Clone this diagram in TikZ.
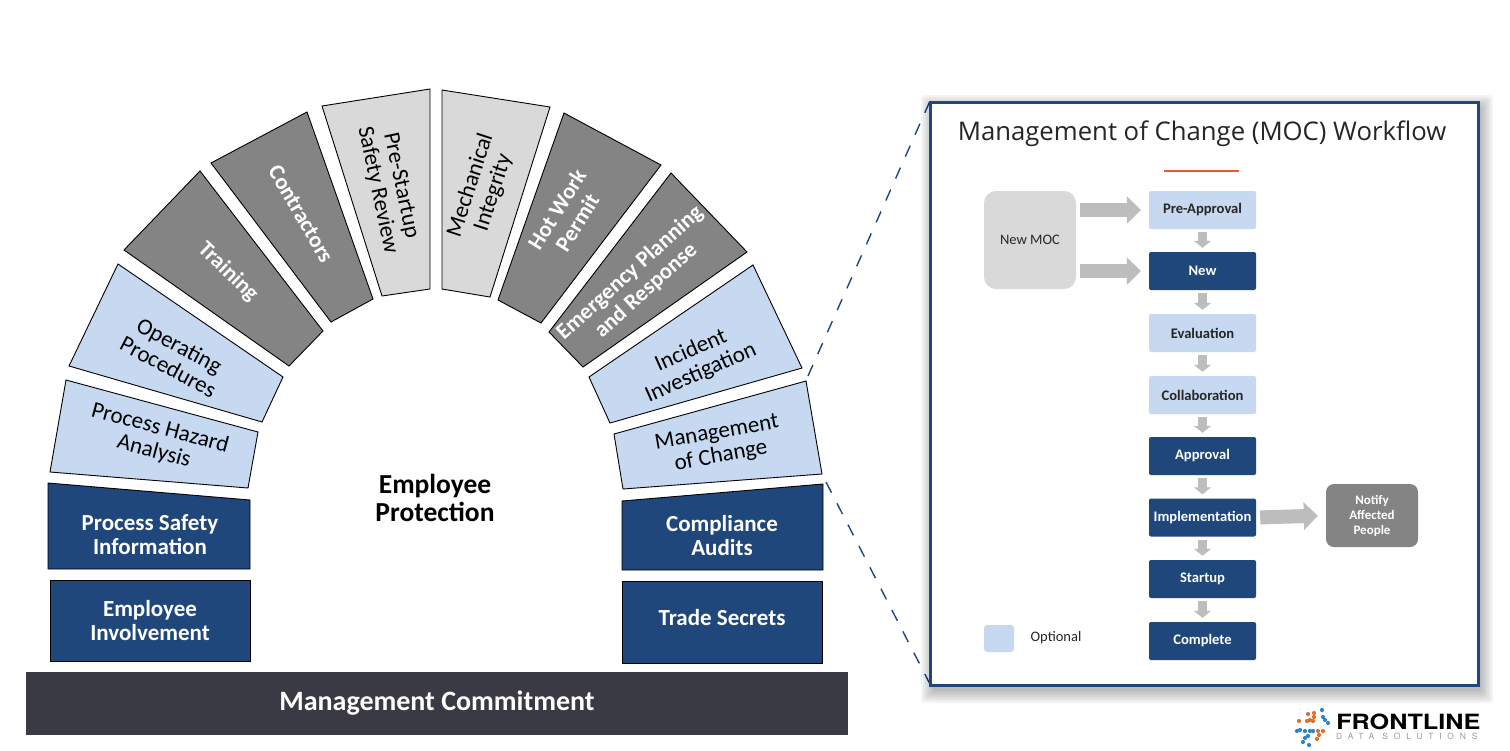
\documentclass[tikz,border=0pt]{standalone}
\usepackage{fontspec}
\setmainfont{Carlito}
\newfontfamily\titlefont{Open Sans}
\newfontfamily\logofont{TeX Gyre Heros}
\newfontfamily\logosub[LetterSpace=68]{TeX Gyre Heros}
\usetikzlibrary{arrows.meta}
\definecolor{navy}{HTML}{1F477B}
\definecolor{paleblue}{HTML}{C6D9F1}
\definecolor{midgrey}{HTML}{848484}
\definecolor{palegrey}{HTML}{D9D9D9}
\definecolor{arrowgrey}{HTML}{BDBDBD}
\definecolor{barcol}{HTML}{3A3A45}
\definecolor{redline}{HTML}{E8593A}
\definecolor{logoorange}{HTML}{E0702A}
\definecolor{logoblue}{HTML}{2E86C9}
\tikzset{
  seg/.style={draw=black,line width=0.9pt,line join=miter},
  seglabel/.style={align=center,font=\fontsize{23}{24}\selectfont},
  greylabel/.style={align=center,text=white,font=\fontsize{22.5}{24}\selectfont\bfseries},
  whitelabel/.style={align=center,text=white,font=\fontsize{23}{24}\selectfont\bfseries},
  flowbox/.style={rounded corners=2pt,minimum width=107pt,minimum height=38pt,inner sep=0pt,font=\fontsize{14.6}{15}\selectfont\bfseries},
  optbox/.style={flowbox,fill=paleblue,text=black!85},
  reqbox/.style={flowbox,fill=navy,text=white},
  smallarrow/.style={draw=arrowgrey,line width=9pt,-{Triangle[width=17pt,length=7pt]},shorten <=3pt,shorten >=4pt},
  bigarrow/.style={draw=arrowgrey,line width=14pt,-{Triangle[width=27pt,length=14pt]},shorten <=4pt,shorten >=8pt},
  zoomline/.style={draw=navy,line width=1.4pt,dash pattern=on 12pt off 12pt}
}
\begin{document}
\begin{tikzpicture}[x=1pt,y=-1pt]
  \useasboundingbox (0,0) rectangle (1510,750);
  % left side of the arch
  \draw[seg,fill=navy] (50,580) rectangle (250,661);
  \node[whitelabel] (empinv) at (150,621) {Employee\\Involvement};
  \draw[seg,fill=navy] (48,483) -- (250,500) -- (250,569) -- (48,569) -- cycle;
  \node[whitelabel] (psi) at (150,535) {Process Safety\\Information};
  \draw[seg,fill=paleblue] (66,380) -- (258,432) -- (248,488) -- (50,472) -- cycle;
  \node[seglabel,rotate=-15] (pha) at (157,440) {Process Hazard\\Analysis};
  \draw[seg,fill=paleblue] (118,264) -- (283,377) -- (262,422) -- (69,366) -- cycle;
  \node[seglabel,rotate=-28] (opproc) at (174,356) {Operating\\Procedures};
  \draw[seg,fill=midgrey] (200,171) -- (323,331) -- (289,366) -- (124,250) -- cycle;
  \node[greylabel,rotate=-44] (training) at (228,272) {Training};
  \draw[seg,fill=midgrey] (307,112) -- (373,299) -- (331,322) -- (211,163) -- cycle;
  \node[greylabel,rotate=-60] (contractors) at (301,214) {Contractors};
  \draw[seg,fill=palegrey] (430,89) -- (430,289) -- (382,296) -- (322,106) -- cycle;
  \node[seglabel,rotate=-78] (pssr) at (389,188) {Pre-Startup\\Safety Review};
  % right side of the arch
  \draw[seg,fill=palegrey] (442,90) -- (550,107) -- (490,297) -- (442,289) -- cycle;
  \node[seglabel,rotate=72] (mi) at (482,189) {Mechanical\\Integrity};
  \draw[seg,fill=midgrey] (564,113) -- (661,165) -- (541,323) -- (498,300) -- cycle;
  \node[greylabel,rotate=58] (hotwork) at (567,216) {Hot Work\\Permit};
  \draw[seg,fill=midgrey] (671,173) -- (747,252) -- (583,367) -- (549,332) -- cycle;
  \node[greylabel,rotate=42] (epr) at (638,282) {Emergency Planning\\and Response};
  \draw[seg,fill=paleblue] (753,265) -- (802,368) -- (610,423) -- (589,377) -- cycle;
  \node[seglabel,rotate=24] (incident) at (696,362) {Incident\\Investigation};
  \draw[seg,fill=paleblue] (806,381) -- (822,474) -- (623,489) -- (614,434) -- cycle;
  \node[seglabel,rotate=10] (moc) at (719,445) {Management\\of Change};
  \draw[seg,fill=navy] (622,501) -- (823,484) -- (823,570) -- (622,570) -- cycle;
  \node[whitelabel] (audits) at (722,536) {Compliance\\Audits};
  \draw[seg,fill=navy] (622,581) rectangle (822,663);
  \node[whitelabel] (tradesec) at (722,618) {Trade Secrets};
  % centre and base
  \node[align=center,font=\fontsize{27.5}{28}\selectfont\bfseries] (protect) at (435,498) {Employee\\Protection};
  \node[fill=barcol,minimum width=822pt,minimum height=63pt,inner sep=0pt,text=white,font=\fontsize{28}{28}\selectfont\bfseries] (base) at (437,703.5) {Management Commitment};
  % dashed lines to the workflow panel
  \coordinate (segtop) at (808,376);
  \coordinate (segbot) at (826,482);
  \coordinate (paneltop) at (930,101);
  \coordinate (panelbot) at (932,688);
  \draw[zoomline] (segtop) -- (paneltop);
  \draw[zoomline] (segbot) -- (panelbot);
  % panel with soft shadow
  \foreach \d in {0,2,...,12}
    \fill[black,opacity=0.045,rounded corners=3pt] (933-\d,107-\d) rectangle (1481+\d,691+\d);
  \node[draw=navy,line width=3pt,fill=white,minimum width=548pt,minimum height=583pt,inner sep=0pt] (panel) at (1204,393.5) {};
  \node[font=\titlefont\fontsize{25.7}{28}\selectfont,text=black!85] (title) at (1202,134) {Management of Change (MOC) Workflow};
  \coordinate (redl) at (1164,171);
  \coordinate (redr) at (1239,171);
  \draw[redline,line width=1.5pt] (redl) -- (redr);
  % workflow boxes
  \node[optbox] (preapp) at (1202.5,210) {Pre-Approval};
  \node[reqbox] (new) at (1202.5,271) {New};
  \node[optbox] (evalu) at (1202.5,333) {Evaluation};
  \node[optbox] (collab) at (1202.5,395) {Collaboration};
  \node[reqbox] (approval) at (1202.5,456) {Approval};
  \node[reqbox] (impl) at (1202.5,517.5) {Implementation};
  \node[reqbox] (startup) at (1202.5,579) {Startup};
  \node[reqbox] (complete) at (1202.5,641) {Complete};
  \node[fill=palegrey,rounded corners=12pt,minimum width=92pt,minimum height=98pt,inner sep=0pt,text=black!85,font=\fontsize{14.5}{15}\selectfont] (newmoc) at (1030,240) {New MOC};
  \node[fill=midgrey,rounded corners=8pt,minimum width=92pt,minimum height=63pt,inner sep=0pt,align=center,text=white,font=\fontsize{13}{15}\selectfont\bfseries] (notify) at (1372,515.5) {Notify\\Affected\\People};
  \node[fill=paleblue,rounded corners=3pt,minimum width=30pt,minimum height=27pt,inner sep=0pt] (legend) at (999,638.5) {};
  \node[text=black!85,font=\fontsize{14.5}{15}\selectfont] (legtext) at (1056,638) {Optional};
  % workflow arrows
  \draw[bigarrow] (newmoc.east |- preapp.west) -- (preapp.west);
  \draw[bigarrow] (newmoc.east |- new.west) -- (new.west);
  \draw[bigarrow] (impl.east) -- (notify.west);
  \draw[smallarrow] (preapp.south) -- (new.north);
  \draw[smallarrow] (new.south) -- (evalu.north);
  \draw[smallarrow] (evalu.south) -- (collab.north);
  \draw[smallarrow] (collab.south) -- (approval.north);
  \draw[smallarrow] (approval.south) -- (impl.north);
  \draw[smallarrow] (impl.south) -- (startup.north);
  \draw[smallarrow] (startup.south) -- (complete.north);
  % logo
  \foreach \x/\y in {1299/721,1307/721,1310/720,1313/721,1314/717,1308/714,1314/713,1318/731,1323/731,1319/735,1317/739}
    \fill[logoorange] (\x,\y) circle (2.1pt);
  \foreach \x/\y in {1322/710,1323/717,1325/720,1328/723,1297/731,1300/730,1305/731,1310/731,1313/731,1308/736,1305/738,1303/742,1309/745}
    \fill[logoblue] (\x,\y) circle (2.1pt);
  \node[anchor=west,inner sep=0pt,xscale=1.2,font=\logofont\fontsize{21}{21}\selectfont\bfseries] (logo) at (1336,722) {FRONTLINE};
  \node[anchor=west,inner sep=0pt,text=black!40,font=\logosub\fontsize{8.5}{9}\selectfont] (logosub) at (1336,736) {DATA SOLUTIONS};
\end{tikzpicture}
\end{document}
